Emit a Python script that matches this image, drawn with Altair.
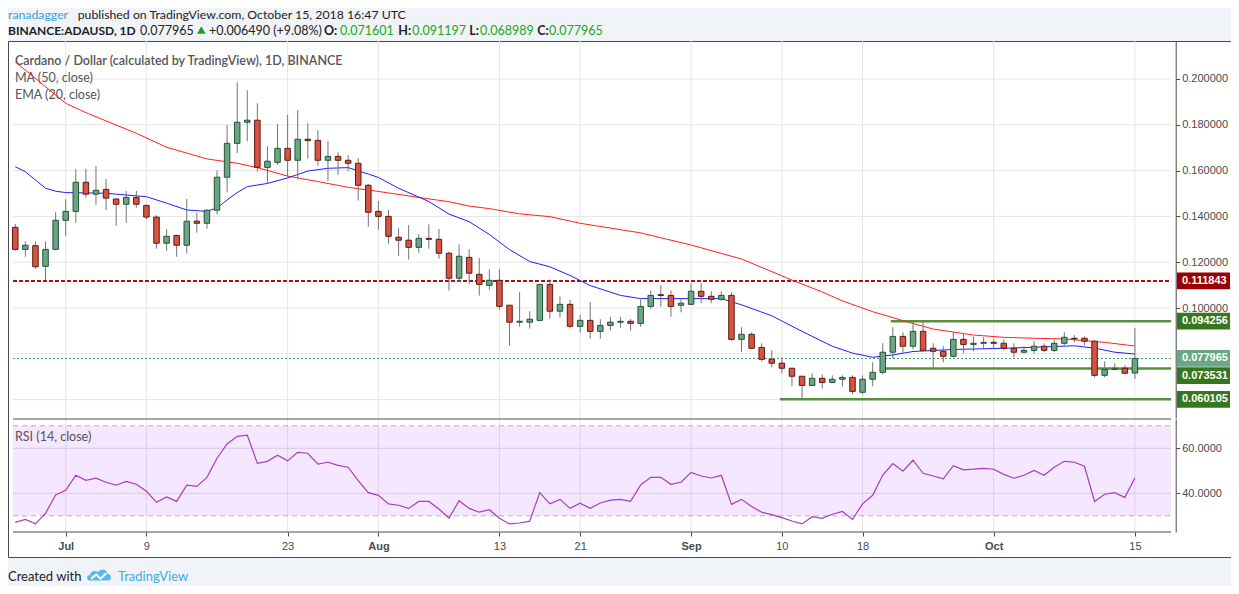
import altair as alt
import pandas as pd

# ---------------- data ----------------
dates = pd.date_range("2018-06-26", "2018-10-15", freq="D")  # 112 daily candles

# prices in thousandths of a dollar
open_m = [135.2,125.6,127.2,118.2,125.6,138.3,142.2,154.9,149.7,151.8,
          147.6,145.3,148.3,144.8,139.7,128.3,131.7,127.4,137.9,137.0,
          142.7,157.1,171.9,181.1,182.0,161.4,163.6,169.7,164.5,173.7,
          173.2,164.5,166.2,164.5,163.2,153.6,142.2,140.0,130.9,129.6,
          126.5,130.4,130.0,123.9,113.0,122.1,114.7,109.9,112.1,101.2,
          93.8,93.8,94.6,110.3,98.6,101.6,92.0,94.6,89.8,92.4,
          93.8,94.2,93.3,100.7,105.8,105.5,101.2,101.6,107.3,105.1,
          103.8,105.5,86.3,88.5,82.8,77.6,75.9,73.7,70.2,66.2,
          69.3,67.5,68.9,69.7,63.2,68.9,71.9,80.7,87.6,83.3,
          89.8,82.4,81.1,78.9,86.3,84.1,84.6,85.0,84.6,82.4,
          80.7,81.5,83.3,81.5,84.6,86.8,86.8,85.5,70.6,73.2,
          73.7,71.601]
high_m = [136.7,129.1,129.1,129.1,141.8,147.5,160.6,160.8,161.9,156.3,
          147.8,151.1,151.1,145.2,140.5,134.4,132.0,147.6,141.6,143.0,
          160.1,179.9,198.6,195.1,189.4,170.6,180.2,184.3,186.5,180.7,
          177.7,172.9,168.0,166.7,165.4,154.2,146.7,142.8,134.8,136.2,
          132.2,136.5,134.5,124.6,127.8,125.6,121.8,116.9,116.9,101.4,
          106.9,98.6,110.5,112.5,105.1,103.5,96.9,102.6,95.1,96.1,
          96.1,95.2,103.8,107.7,110.0,107.7,103.8,110.8,110.8,107.3,
          107.3,106.9,91.6,89.4,84.6,81.5,78.5,73.9,70.4,71.5,
          71.0,70.6,70.6,70.6,70.6,76.3,84.6,91.6,89.4,94.3,
          94.0,84.6,83.3,89.4,89.0,87.6,87.2,86.3,86.3,84.6,
          83.3,85.5,84.6,85.9,89.4,88.1,87.6,85.9,76.7,75.9,
          75.0,91.197]
low_m = [125.0,122.4,117.2,112.2,125.2,131.6,137.2,148.2,145.1,142.8,
         135.9,137.2,143.8,138.7,125.9,125.0,122.4,123.7,132.9,134.6,
         140.9,150.5,167.6,172.8,159.5,154.5,162.4,157.3,156.2,165.2,
         162.1,155.5,158.2,159.7,146.9,135.5,134.2,128.1,122.8,121.1,
         124.2,125.9,121.5,107.6,111.5,110.5,105.4,108.0,99.3,83.5,
         91.8,91.0,94.2,95.3,95.8,91.1,89.2,86.6,86.6,90.3,
         91.4,90.1,91.8,99.7,100.6,96.2,98.1,101.4,102.1,102.1,
         103.2,85.7,80.9,82.0,76.7,74.1,71.5,65.8,60.1,66.0,
         64.8,67.3,65.8,62.3,62.3,65.8,71.0,78.0,80.2,82.0,
         81.1,73.5,76.3,78.5,80.2,81.1,82.4,82.0,81.5,78.5,
         80.2,80.2,80.7,80.7,83.7,85.0,83.7,69.7,69.7,72.8,
         71.0,68.989]
close_m = [125.6,127.4,118.0,125.6,138.3,142.2,154.9,149.7,151.4,148.0,
           145.3,148.3,145.3,139.7,128.3,131.3,127.4,137.9,137.0,142.7,
           157.1,171.9,181.1,182.0,161.4,164.1,169.7,164.5,173.7,173.1,
           164.5,166.2,164.5,163.2,153.6,141.8,140.0,131.3,129.6,126.5,
           130.4,130.0,123.9,113.0,122.6,115.2,110.3,112.1,100.7,93.8,
           94.2,95.1,110.3,98.6,101.6,92.0,94.6,89.8,92.4,93.8,
           94.2,93.3,100.7,105.5,105.5,100.7,102.1,107.3,105.1,103.8,
           105.5,86.3,88.5,82.4,77.6,75.9,73.7,70.2,66.2,69.3,
           67.5,68.9,69.7,63.6,68.9,71.9,80.7,87.6,83.3,89.8,
           81.5,81.1,78.9,86.3,84.1,84.6,85.0,84.6,82.4,80.7,
           81.5,83.3,81.5,84.6,87.2,86.5,85.5,70.6,73.2,73.7,
           71.5,77.965]

rsi14 = [27.1,28.4,26.4,31.1,39.3,41.3,48.0,45.8,46.7,44.9,
         43.6,45.3,44.0,40.9,36.0,38.4,36.4,43.6,43.1,47.1,
         55.6,61.9,65.3,65.8,53.3,54.2,56.9,54.4,58.2,57.8,
         53.0,53.8,52.4,51.6,45.6,40.3,39.1,35.3,34.7,33.3,
         36.4,36.4,33.0,29.0,36.7,33.3,31.6,32.7,28.9,26.4,
         26.8,27.6,40.3,35.3,37.3,33.3,35.6,33.3,35.7,37.0,
         37.3,36.4,43.7,47.1,47.1,44.0,44.9,49.3,47.7,46.8,
         48.0,35.1,37.3,34.1,31.6,30.5,29.2,27.7,26.4,29.6,
         28.9,30.7,31.9,28.4,35.3,39.1,48.1,53.2,49.8,54.7,
         48.9,47.7,46.4,52.3,50.4,50.7,51.1,50.7,48.4,46.7,
         48.0,50.2,48.0,51.6,54.2,53.8,52.0,36.4,39.6,40.3,
         38.2,46.8]

# MA(50) and EMA(20) read at candle indices (thousandths)
ma50_day = [0,1,5,7,12,15,19,22,24,27,30,33,36,40,43,45,47,50,53,56,62,67,72,77,80,82,85,88,91,95,98,101,104,108,111]
ma50_m = [207.4,203.9,189.4,185.3,176.3,170.2,165.1,163.2,161.3,157.6,155.2,152.7,150.9,148.3,146.4,144.5,143.4,141.1,139.9,137.0,
          132.8,127.5,121.4,112.2,107.0,103.1,98.4,94.5,90.8,88.2,87.2,86.8,86.5,85.0,83.4]
ema20_day = [0,1,2,3,4,5,9,13,15,17,19,20,21,22,23,25,27,29,31,33,35,36,38,41,43,45,47,49,51,53,55,57,60,62,66,70,72,75,78,81,83,85,87,89,93,98,103,105,107,109,111]
ema20_m = [161.7,159.5,155.9,152.3,151.0,150.4,150.1,148.6,145.8,142.8,142.2,143.7,147.2,150.4,153.0,154.4,156.8,159.8,161.0,161.3,158.5,157.0,152.3,146.5,141.0,137.7,132.1,125.5,120.3,118.0,114.2,109.8,105.5,104.1,104.1,104.1,101.4,96.6,89.8,83.3,80.3,78.5,79.5,81.0,81.9,82.4,83.2,83.5,82.5,80.7,79.9]

tick_day = [5, 13, 27, 36, 48, 56, 67, 76, 84, 97, 111]
tick_label = ["Jul", "9", "23", "Aug", "13", "21", "Sep", "10", "18", "Oct", "15"]
month_tick = [5, 36, 67, 97]

price_ticks = [0.20, 0.18, 0.16, 0.14, 0.12, 0.10]
price_grid = [0.20, 0.18, 0.16, 0.14, 0.12, 0.10, 0.08, 0.06]
rsi_ticks = [60, 40]

resistance_red = 0.111843
levels_green = [0.094256, 0.073531, 0.060105]
levels_green_start = [86.8, 85.8, 75.8]
last_price = 0.077965

tag_price = [0.111843, 0.094256, 0.077965, 0.073531, 0.060105]
tag_color = ["#990000", "#38761d", "#6aa884", "#38761d", "#38761d"]
tag_shift = [0, 0, 0, 7, 0]

# ---------------- frames ----------------
df = pd.DataFrame({
    "date": dates, "day": range(len(dates)),
    "open": [v / 1000 for v in open_m], "high": [v / 1000 for v in high_m],
    "low": [v / 1000 for v in low_m], "close": [v / 1000 for v in close_m],
    "rsi": rsi14,
})
ma_df = pd.DataFrame({"day": ma50_day, "v": [v / 1000 for v in ma50_m]})
ema_df = pd.DataFrame({"day": ema20_day, "v": [v / 1000 for v in ema20_m]})

# ---------------- layout ----------------
W, H = 1223, 516
D0, D1 = -0.226, 120.03
AX = 114.59
P_LO, P_HI = 0.05197, 0.21659
R_LO, R_HI = 22.8, 73.02
AXC = "#4a4a4a"
GRID = "#e6e6e6"
AXFONT = "Liberation Sans"
TXFONT = "Lato"

xs = alt.Scale(domain=[D0, D1], nice=False, zero=False)
ps = alt.Scale(domain=[P_LO, P_HI], range=[377, 0], nice=False, zero=False)
rs = alt.Scale(domain=[R_LO, R_HI], range=[491, 378], nice=False, zero=False)

label_expr = ("[" + ",".join("'%s'" % s for s in tick_label) + "][indexof(["
              + ",".join(str(d) for d in tick_day) + "], datum.value)]")
bold_test = "indexof([" + ",".join(str(d) for d in month_tick) + "], datum.value) >= 0"
xaxis = alt.Axis(orient="bottom", offset=-25, values=tick_day, labelExpr=label_expr,
                 title=None, grid=False, domain=False, tickSize=4, tickColor=AXC,
                 labelColor=AXC, labelFont=AXFONT, labelFontSize=11, labelPadding=4,
                 labelFlush=False, labelOverlap=False,
                 labelFontWeight={"condition": {"test": bold_test, "value": "bold"}, "value": "normal"})
pyaxis = alt.Axis(orient="right", offset=-55.3, values=price_ticks, format=".6f", title=None,
                  grid=False, tickSize=4, tickColor=AXC, domainColor=AXC, labelColor=AXC,
                  labelFont=AXFONT, labelFontSize=11, labelPadding=2, labelFlush=False,
                  labelOverlap=False)
raxis = alt.Axis(orient="right", offset=-55.3, values=rsi_ticks, format=".4f", title=None,
                 grid=False, tickSize=4, tickColor=AXC, domainColor=AXC, labelColor=AXC,
                 labelFont=AXFONT, labelFontSize=11, labelPadding=2, labelFlush=False,
                 labelOverlap=False)


def X(f):
    return alt.X(f, type="quantitative", scale=xs, axis=xaxis)


def PY(f, axis=None):
    return alt.Y(f, type="quantitative", scale=ps, axis=axis)


def RY(f, axis=None):
    return alt.Y(f, type="quantitative", scale=rs, axis=axis)


dummy = pd.DataFrame({"k": [0]})


def txt(s, x, y, color="#222222", size=12.5, weight="normal", font=TXFONT):
    return alt.Chart(dummy).mark_text(text=s, align="left", baseline="middle", color=color,
                                      fontSize=size, fontWeight=weight, font=font).encode(
        x=alt.value(x), y=alt.value(y))


L = []
# grids
L.append(alt.Chart(pd.DataFrame({"day": tick_day, "lo": P_LO, "hi": P_HI})).mark_rule(
    color=GRID, strokeWidth=1).encode(x=X("day"), y=PY("lo"), y2=alt.Y2("hi")))
L.append(alt.Chart(pd.DataFrame({"p": price_grid, "x0": D0, "x1": AX})).mark_rule(
    color=GRID, strokeWidth=1).encode(x=X("x0"), x2=alt.X2("x1"), y=PY("p")))
L.append(alt.Chart(pd.DataFrame({"day": tick_day, "lo": R_LO, "hi": R_HI})).mark_rule(
    color=GRID, strokeWidth=1).encode(x=X("day"), y=RY("lo"), y2=alt.Y2("hi")))
L.append(alt.Chart(pd.DataFrame({"r": rsi_ticks, "x0": D0, "x1": AX})).mark_rule(
    color="#dedede", strokeWidth=1).encode(x=X("x0"), x2=alt.X2("x1"), y=RY("r")))
# RSI band
L.append(alt.Chart(pd.DataFrame({"x0": [D0], "x1": [AX], "lo": [30], "hi": [70]})).mark_rect(
    color="#9915ff", opacity=0.1).encode(x=X("x0"), x2=alt.X2("x1"), y=RY("lo"), y2=alt.Y2("hi")))
L.append(alt.Chart(pd.DataFrame({"r": [70, 30], "x0": D0, "x1": AX})).mark_rule(
    color="#b9abc5", strokeWidth=1, strokeDash=[5, 4]).encode(x=X("x0"), x2=alt.X2("x1"), y=RY("r")))
# panel separators
L.append(alt.Chart(pd.DataFrame({"r": [R_HI, R_LO], "x0": D0, "x1": AX})).mark_rule(
    color=AXC, strokeWidth=1).encode(x=X("x0"), x2=alt.X2("x1"), y=RY("r")))

# level lines
L.append(alt.Chart(pd.DataFrame({"p": [resistance_red], "x0": [D0], "x1": [AX]})).mark_rule(
    color="#a31515", strokeWidth=2, strokeDash=[4, 2]).encode(x=X("x0"), x2=alt.X2("x1"), y=PY("p")))
L.append(alt.Chart(pd.DataFrame({"p": levels_green, "x0": levels_green_start, "x1": AX})).mark_rule(
    color="#5b8f3c", strokeWidth=2.5).encode(x=X("x0"), x2=alt.X2("x1"), y=PY("p")))
L.append(alt.Chart(pd.DataFrame({"p": [last_price], "x0": [D0], "x1": [AX]})).mark_rule(
    color="#3d9a6a", strokeWidth=1, strokeDash=[2, 2]).encode(x=X("x0"), x2=alt.X2("x1"), y=PY("p")))

# legends inside the panes
L.append(txt("Cardano / Dollar (calculated by TradingView), 1D, BINANCE", 7, 20, color="#555555", weight=600))
L.append(txt("MA (50, close)", 7, 37.3, color="#555555"))
L.append(txt("EMA (20, close)", 7, 54, color="#555555"))
L.append(txt("RSI (14, close)", 7, 396, color="#555555"))

# moving averages
L.append(alt.Chart(ma_df).mark_line(color="#ff2020", strokeWidth=1).encode(x=X("day"), y=PY("v")))
L.append(alt.Chart(ema_df).mark_line(color="#1f1fff", strokeWidth=1).encode(x=X("day"), y=PY("v")))

# candles
L.append(alt.Chart(df).mark_rule(color="#737375", strokeWidth=1).encode(
    x=X("day"), y=PY("low", axis=pyaxis), y2=alt.Y2("high")))
L.append(alt.Chart(df).transform_filter("datum.close >= datum.open").mark_bar(
    size=5.5, fill="#6ba583", stroke="#225437", strokeWidth=1, opacity=1).encode(
    x=X("day"), y=PY("open"), y2=alt.Y2("close")))
L.append(alt.Chart(df).transform_filter("datum.close < datum.open").mark_bar(
    size=5.5, fill="#d75442", stroke="#5b1a13", strokeWidth=1, opacity=1).encode(
    x=X("day"), y=PY("open"), y2=alt.Y2("close")))

# RSI line
L.append(alt.Chart(df).mark_line(color="#a83bc6", strokeWidth=1.2).encode(
    x=X("day"), y=RY("rsi", axis=raxis)))

# price tags on the right axis
HALF = 8.35 / 2290.0
for p, c, s in zip(tag_price, tag_color, tag_shift):
    tdf = pd.DataFrame({"p": [p], "lo": [p - HALF], "hi": [p + HALF], "label": ["%.6f" % p]})
    L.append(alt.Chart(tdf).mark_rect(color=c, yOffset=s, y2Offset=s).encode(
        x=alt.value(1169), x2=alt.value(1222), y=PY("lo"), y2=alt.Y2("hi")))
    L.append(alt.Chart(tdf).mark_text(align="left", baseline="middle", color="white", fontWeight="bold",
                                      fontSize=11, font=AXFONT, dy=s).encode(
        x=alt.value(1174), y=PY("p"), text="label:N"))

# header
GREEN = "#22a522"
Y1, Y2 = -26.0, -10.5
L.append(txt("ranadagger", 0, Y1, color="#3a9fd9", size=12.3))
L.append(txt("published on TradingView.com, October 15, 2018 16:47 UTC", 69.7, Y1, size=12.3))
L.append(txt("BINANCE:ADAUSD, 1D", 0, Y2, weight="bold", size=12))
L.append(txt("0.077965", 132, Y2))
L.append(alt.Chart(dummy).mark_point(shape="triangle-up", filled=True, color="#1e9e1e", size=75,
                                     opacity=1).encode(x=alt.value(193.3), y=alt.value(Y2 - 0.5)))
L.append(txt("+0.006490 (+9.08%)", 201, Y2))
for lab, xl, val, xv in [("O:", 316, "0.071601", 332), ("H:", 390.3, "0.091197", 404.3),
                         ("L:", 461.3, "0.068989", 472), ("C:", 529.3, "0.077965", 541)]:
    L.append(txt(lab, xl, Y2, weight="bold"))
    L.append(txt(val, xv, Y2, color=GREEN))

# footer
L.append(txt("Created with", 0, 536, size=13))
cloud = ("M -0.85 0.45 C -1.2 0.45 -1.2 -0.05 -0.85 -0.05 C -0.8 -0.4 -0.4 -0.5 -0.15 -0.3 "
         "C 0.05 -0.65 0.65 -0.6 0.7 -0.15 C 1.1 -0.15 1.15 0.45 0.75 0.45 Z")
zig = "M -0.75 0.28 L -0.3 -0.08 L 0.1 0.28 L 0.6 -0.2"
L.append(alt.Chart(dummy).mark_point(shape=cloud, filled=True, color="#5bb8e8", size=500,
                                     opacity=1).encode(x=alt.value(91.5), y=alt.value(534.5)))
L.append(alt.Chart(dummy).mark_point(shape=zig, filled=False, stroke="white", strokeWidth=2,
                                     size=500, opacity=1).encode(x=alt.value(91.5), y=alt.value(534.5)))
L.append(txt("TradingView", 110, 536, color="#45a9e2", size=13))

chart = alt.layer(*L).resolve_scale(y="independent").properties(
    width=W, height=H,
    autosize=alt.AutoSizeParams(type="none"),
    padding={"left": 0, "right": 0, "top": 33, "bottom": 29},
    background="#f0f3f7",
).configure_view(fill="white", stroke=AXC, strokeWidth=1)

chart.save("out.html", embed_options={"renderer": "svg", "actions": False})
